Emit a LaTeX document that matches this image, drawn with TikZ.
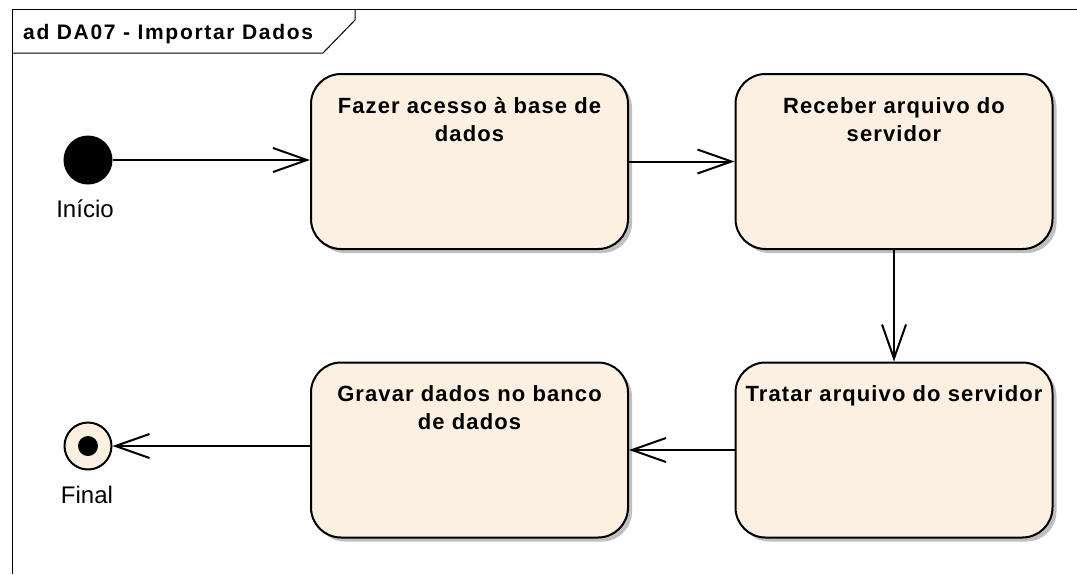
\documentclass[tikz,border=0pt]{standalone}
\usepackage{fontspec}
\setmainfont{Liberation Sans}
\newfontfamily\actfont[LetterSpace=5,BoldFont=Liberation Sans Bold]{Liberation Sans}
\newfontfamily\titlefont[LetterSpace=8,BoldFont=Liberation Sans Bold]{Liberation Sans}
\usetikzlibrary{arrows.meta,shadows}
\definecolor{actfill}{RGB}{251,240,226}
\definecolor{shadowgray}{RGB}{192,192,192}
\tikzset{
  act/.style={draw=black, line width=2pt, fill=actfill, rounded corners=30pt,
    minimum width=317pt, minimum height=175pt, inner sep=0pt,
    drop shadow={shadow xshift=4pt, shadow yshift=-4pt, fill=shadowgray, opacity=1}},
  acttext/.style={anchor=base, align=center, inner sep=0pt,
    font=\actfont\bfseries\fontsize{22pt}{28pt}\selectfont},
  lbl/.style={inner sep=0pt, anchor=base, font=\fontsize{24pt}{28pt}\selectfont},
  flow/.style={draw=black, line width=2pt, -{Straight Barb[length=34pt, width=24pt, line width=2pt]}},
  framestyle/.style={draw=black, line width=1pt}
}
\begin{document}
\begin{tikzpicture}[x=1pt,y=-1pt]
\useasboundingbox (0,0) rectangle (1077,574);
% frame
\draw[framestyle] (12,574) -- (12,9) -- (1077,9);
\draw[framestyle] (12,53) -- (323,53) -- (355,20) -- (355,9);
\node[anchor=base west, inner sep=0pt, font=\titlefont\bfseries\fontsize{21pt}{24pt}\selectfont] (title) at (23,39) {ad DA07 - Importar Dados};
% activities
\node[act] (n1) at (469.5,161.5) {};
\node[act] (n2) at (894,161.5) {};
\node[act] (n3) at (894,450) {};
\node[act] (n4) at (469.5,450) {};
\node[acttext] (t1) at ([yshift=-68pt]n1.north) {Fazer acesso à base de\\dados};
\node[acttext] (t2) at ([yshift=-68pt]n2.north) {Receber arquivo do\\servidor};
\node[acttext] (t3) at ([yshift=-40pt]n3.north) {Tratar arquivo do servidor};
\node[acttext] (t4) at ([yshift=-68pt]n4.north) {Gravar dados no banco\\de dados};
% initial and final
\node[circle, fill=black, minimum size=49pt, inner sep=0pt] (start) at (88,160) {};
\node[lbl] (lstart) at (85,217) {Início};
\node[circle, draw=black, line width=2pt, fill=actfill, minimum size=47pt, inner sep=0pt] (final) at (88,446) {};
\node[circle, fill=black, minimum size=20pt, inner sep=0pt] (finaldot) at (final.center) {};
\node[lbl] (lfinal) at (87,503) {Final};
% flows
\draw[flow] (start.east) -- (start.east -| n1.west);
\draw[flow] (n1.east) -- (n2.west);
\draw[flow] (n2.south) -- (n3.north);
\draw[flow] (n3.west) -- (n4.east);
\draw[flow] (final.east -| n4.west) -- (final.east);
\end{tikzpicture}
\end{document}
